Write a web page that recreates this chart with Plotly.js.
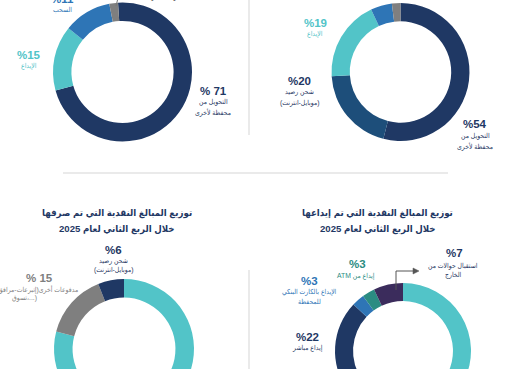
<!DOCTYPE html>
<html><head><meta charset="utf-8">
<script src="https://cdn.plot.ly/plotly-3.0.1.min.js"></script>
<style>
html,body{margin:0;padding:0;overflow:hidden;background:#fff;width:510px;height:369px;}
#wrap{position:absolute;left:0;top:-130px;width:510px;height:620px;}
</style></head><body><div id="wrap"></div>
<script>
// ---- data ----
const tlCategories = ['التحويل من محفظة لأخرى', 'الإيداع', 'السحب', 'مدفوعات أخرى'];
const tlValues = [71, 15, 11, 2];
const tlPctLabels = ['% 71', '%15', '%11', ''];

const trCategories = ['التحويل من محفظة لأخرى', 'شحن رصيد (موبايل-انترنت)', 'الإيداع', 'السحب', 'أخرى'];
const trValues = [54, 20, 19, 5, 2];
const trPctLabels = ['%54', '%20', '%19', '', ''];

const blCategories = ['أخرى', 'مدفوعات أخرى(إتبرعات-مرافق تسوق،...)', 'شحن رصيد (موبايل-انترنت)'];
const blValues = [79, 15, 6];
const blPctLabels = ['', '% 15', '%6'];

const brCategories = ['أخرى', 'إيداع مباشر', 'الإيداع بالكارت البنكي للمحفظة', 'ATM إيداع من', 'استقبال حوالات من الخارج'];
const brValues = [65, 22, 3, 3, 7];
const brPctLabels = ['', '%22', '%3', '%3', '%7'];

const blTitle = ['توزيع المبالغ النقدية التي تم صرفها', 'خلال الربع الثاني لعام 2025'];
const brTitle = ['توزيع المبالغ النقدية التي تم إيداعها', 'خلال الربع الثاني لعام 2025'];

// ---- styling / layout helpers ----
const W = 510, H = 620, OFF = 130;
const px = x => x / W;
const py = y => 1 - (y + OFF) / H;
const dom = (cx, cy, r) => ({x: [(cx - r) / W, (cx + r) / W], y: [py(cy + r), py(cy - r)]});

const NAVY = '#1f3864', TEAL = '#52c4c8', BLUE = '#2e75b6', GRAY = '#7f7f7f',
      DBLUE = '#1d4e7a', PURPLE = '#3b2c5c', GREEN = '#2b8c82';
const FONT = 'Liberation Sans, DejaVu Sans Condensed, DejaVu Sans, sans-serif';

function pie(values, labels, colors, center, rotation) {
  return {
    type: 'pie', values: values, labels: labels, sort: false, direction: 'clockwise',
    rotation: rotation, hole: 0.735, textinfo: 'none', hoverinfo: 'skip', showlegend: false,
    marker: {colors: colors, line: {width: 0}}, domain: dom(center[0], center[1], center[2])
  };
}

const data = [
  pie(tlValues, tlCategories, [NAVY, TEAL, BLUE, GRAY], [122.5, 72, 69.5], -3.7),
  pie(trValues, trCategories, [NAVY, DBLUE, TEAL, BLUE, GRAY], [400.5, 72, 69], 0),
  pie(blValues, blCategories, [TEAL, GRAY, NAVY], [124, 349, 70], 0),
  pie(brValues, brCategories, [TEAL, NAVY, BLUE, GREEN, PURPLE], [403, 351, 68], 0)
];

const annotations = [];
function ann(x, y, text, size, color, bold) {
  annotations.push({xref: 'paper', yref: 'paper', x: px(x), y: py(y), showarrow: false,
    xanchor: 'center', yanchor: 'middle', text: bold ? '<b>' + text + '</b>' : text,
    font: {family: FONT, size: size, color: color}});
}
const BIG = 11.5, SMALL = 6.8, TITLE = 9.6;

// top-left
ann(62, -1, tlPctLabels[2], BIG, BLUE, true);
ann(62, 10, tlCategories[2], SMALL, BLUE);
ann(29, 55, tlPctLabels[1], BIG, TEAL, true);
ann(29, 66, tlCategories[1], SMALL, TEAL);
ann(213, 91, tlPctLabels[0], BIG, NAVY, true);
ann(213, 102, 'التحويل من', SMALL, NAVY);
ann(213, 112, 'محفظة لأخرى', SMALL, NAVY);
ann(166, -4, tlCategories[3], SMALL, '#444');

// top-right
ann(315, 23, trPctLabels[2], BIG, TEAL, true);
ann(315, 34, trCategories[2], SMALL, TEAL);
ann(299, 81, trPctLabels[1], BIG, NAVY, true);
ann(299, 92, 'شحن رصيد', SMALL, NAVY);
ann(299, 103, '(موبايل-انترنت)', SMALL, NAVY);
ann(475, 124, trPctLabels[0], BIG, NAVY, true);
ann(475, 136, 'التحويل من', SMALL, NAVY);
ann(475, 146, 'محفظة لأخرى', SMALL, NAVY);

// bottom-left
ann(117, 213, blTitle[0], TITLE, NAVY, true);
ann(117, 229, blTitle[1], TITLE, NAVY, true);
ann(113, 250, blPctLabels[2], BIG, NAVY, true);
ann(113, 261, 'شحن رصيد', SMALL, NAVY);
ann(113, 270, '(موبايل-انترنت)', SMALL, NAVY);
ann(39, 278, blPctLabels[1], BIG, GRAY, true);
ann(38, 289, 'مدفوعات أخرى(إتبرعات-مرافق', SMALL, GRAY);
ann(24, 298, 'تسوق،...)', SMALL, GRAY);

// bottom-right
ann(377, 213, brTitle[0], TITLE, NAVY, true);
ann(378, 229, brTitle[1], TITLE, NAVY, true);
ann(454, 253, brPctLabels[4], BIG, NAVY, true);
ann(453, 266, 'استقبال حوالات من', SMALL, NAVY);
ann(453, 275, 'الخارج', SMALL, NAVY);
ann(357, 264, brPctLabels[3], BIG, GREEN, true);
ann(356, 276, brCategories[3], SMALL, GREEN);
ann(309, 281, brPctLabels[2], BIG, BLUE, true);
ann(309, 292, 'الإيداع بالكارت البنكي', SMALL, BLUE);
ann(309, 301, 'للمحفظة', SMALL, BLUE);
ann(307, 337, brPctLabels[1], BIG, NAVY, true);
ann(307, 348, brCategories[1], SMALL, NAVY);

const P = (x, y) => px(x) + ',' + py(y);
const SEP = '#e3e3e3';
const shapes = [
  {type: 'line', xref: 'paper', yref: 'paper', x0: px(249), x1: px(249), y0: py(-5), y1: py(135), line: {color: SEP, width: 1.5}},
  {type: 'line', xref: 'paper', yref: 'paper', x0: px(249), x1: px(249), y0: py(270), y1: py(375), line: {color: SEP, width: 1.5}},
  {type: 'line', xref: 'paper', yref: 'paper', x0: px(63), x1: px(448), y0: py(173), y1: py(173), line: {color: SEP, width: 1.5}},
  {type: 'line', xref: 'paper', yref: 'paper', x0: px(116), x1: px(118), y0: py(6), y1: py(-2), line: {color: '#777', width: 1}},
  {type: 'path', xref: 'paper', yref: 'paper', path: 'M' + P(396, 290) + ' L' + P(396, 271) + ' L' + P(414, 271), line: {color: '#555', width: 1}},
  {type: 'path', xref: 'paper', yref: 'paper', path: 'M' + P(419, 271) + ' L' + P(413, 268) + ' L' + P(413, 274) + ' Z', fillcolor: '#555', line: {color: '#555', width: 0.5}}
];

const layout = {
  width: W, height: H, margin: {l: 0, r: 0, t: 0, b: 0},
  paper_bgcolor: '#fff', plot_bgcolor: '#fff', showlegend: false,
  annotations: annotations, shapes: shapes, font: {family: FONT}
};
Plotly.newPlot('wrap', data, layout, {staticPlot: true, displayModeBar: false});
</script></body></html>
